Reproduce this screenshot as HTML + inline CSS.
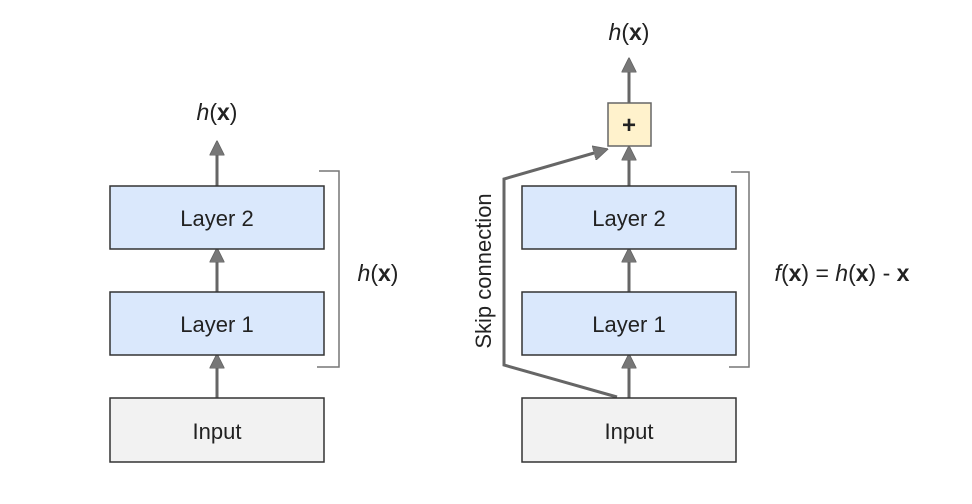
<!DOCTYPE html>
<html><head><style>body{margin:0;background:#fff}</style></head><body>
<svg width="972" height="499" viewBox="0 0 972 499" xmlns="http://www.w3.org/2000/svg" font-family="Liberation Sans, sans-serif">
<defs>
<marker id="a" markerWidth="5" markerHeight="5" refX="2.5" refY="2.5" orient="auto" markerUnits="strokeWidth">
<path d="M0,0 L5,2.5 L0,5 z" fill="#777" stroke="#666" stroke-width="0.3"/>
</marker>
</defs>
<g stroke="#666" stroke-width="3" fill="none">
<line x1="217" y1="186" x2="217" y2="148" marker-end="url(#a)"/>
<line x1="217" y1="292" x2="217" y2="255" marker-end="url(#a)"/>
<line x1="217" y1="398" x2="217" y2="361" marker-end="url(#a)"/>
<line x1="629" y1="103" x2="629" y2="65" marker-end="url(#a)"/>
<line x1="629" y1="186" x2="629" y2="153" marker-end="url(#a)"/>
<line x1="629" y1="292" x2="629" y2="255" marker-end="url(#a)"/>
<line x1="629" y1="398" x2="629" y2="361" marker-end="url(#a)"/>
<polyline points="617,397 504,365 504,179 601,151" marker-end="url(#a)"/>
</g>
<g stroke="#333" stroke-width="1.5">
<rect x="110" y="186" width="214" height="63" fill="#dae8fc"/>
<rect x="110" y="292" width="214" height="63" fill="#dae8fc"/>
<rect x="110" y="398" width="214" height="64" fill="#f2f2f2"/>
<rect x="522" y="186" width="214" height="63" fill="#dae8fc"/>
<rect x="522" y="292" width="214" height="63" fill="#dae8fc"/>
<rect x="522" y="398" width="214" height="64" fill="#f2f2f2"/>
<rect x="608" y="103" width="43" height="43" fill="#fff2cc" stroke="#666"/>
</g>
<g stroke="#777" stroke-width="1.5" fill="none">
<polyline points="319,171 339,171 339,367 317,367"/>
<polyline points="731,172 749,172 749,367 729,367"/>
</g>
<g font-size="22" fill="#222" text-anchor="middle">
<text x="217" y="226">Layer 2</text>
<text x="217" y="332">Layer 1</text>
<text x="217" y="439">Input</text>
<text x="629" y="226">Layer 2</text>
<text x="629" y="332">Layer 1</text>
<text x="629" y="439">Input</text>
<text x="629" y="133" font-weight="bold" font-size="24">+</text>
<g font-size="23">
<text x="217" y="120"><tspan font-style="italic">h</tspan>(<tspan font-weight="bold">x</tspan>)</text>
<text x="629" y="40"><tspan font-style="italic">h</tspan>(<tspan font-weight="bold">x</tspan>)</text>
<text x="378" y="281"><tspan font-style="italic">h</tspan>(<tspan font-weight="bold">x</tspan>)</text>
<text x="842" y="281"><tspan font-style="italic">f</tspan>(<tspan font-weight="bold">x</tspan>) = <tspan font-style="italic">h</tspan>(<tspan font-weight="bold">x</tspan>) - <tspan font-weight="bold">x</tspan></text>
</g>
<text x="0" y="0" transform="translate(491,271) rotate(-90)">Skip connection</text>
</g>
</svg>
</body></html>
